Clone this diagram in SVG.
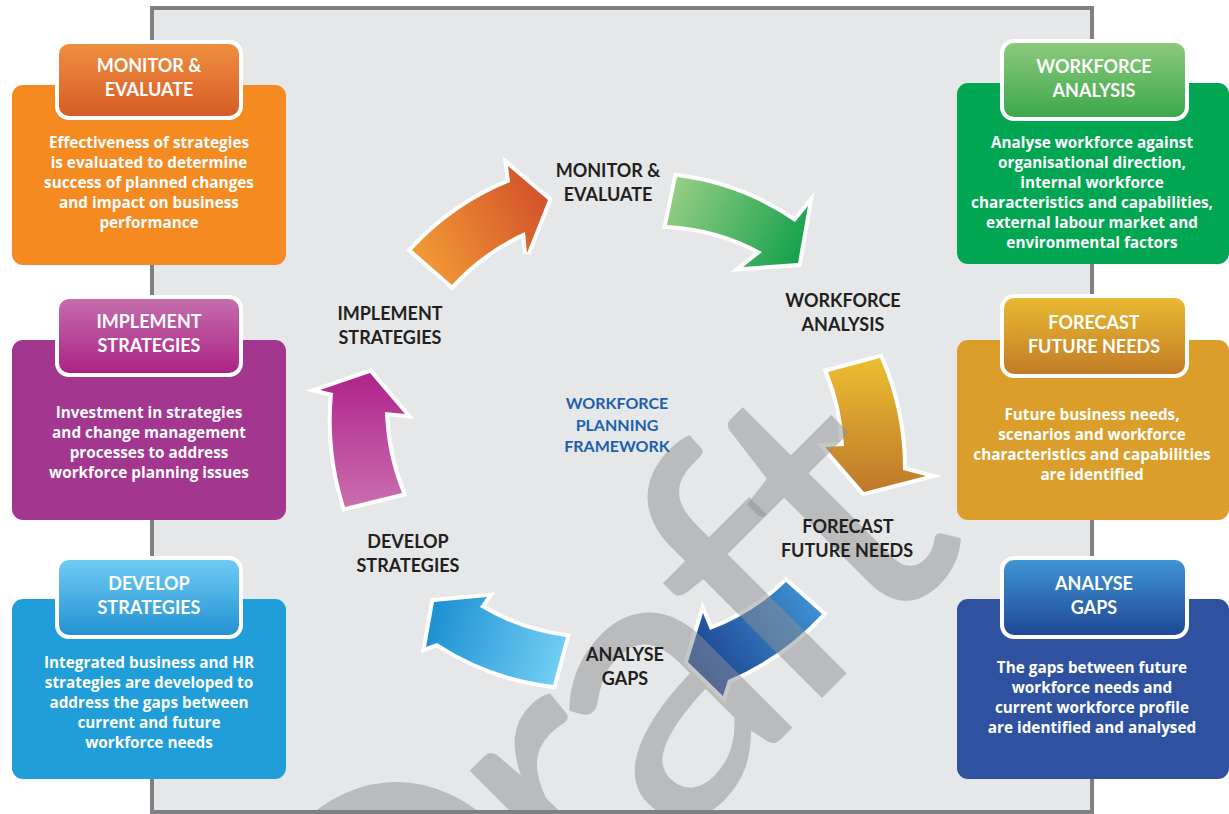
<svg xmlns="http://www.w3.org/2000/svg" width="1229" height="814" viewBox="0 0 1229 814">
<defs>
<style>
.body{stroke:none}
.tab{stroke:#ffffff;stroke-width:4}
.tt{font-family:Lato,"Liberation Sans",sans-serif;font-weight:700;font-size:18px;fill:#ffffff;text-anchor:middle}
.bt{font-family:"Open Sans","Liberation Sans",sans-serif;font-weight:700;font-size:15.3px;fill:#ffffff;text-anchor:middle}
.cl{font-family:Lato,"Liberation Sans",sans-serif;font-weight:700;font-size:18px;fill:#231f20;text-anchor:middle}
.ct{font-family:Lato,"Liberation Sans",sans-serif;font-weight:700;font-size:16px;fill:#1d61ad;text-anchor:middle}
.arr{stroke:#ffffff;stroke-width:8;stroke-linejoin:miter;paint-order:stroke}
.wm{font-family:Lato,"Liberation Sans",sans-serif;font-weight:400;font-size:390px;letter-spacing:-21px;fill:#8e8f91;fill-opacity:0.5}
</style>
<linearGradient id="gMon" x1="0" y1="0" x2="0" y2="1"><stop offset="0" stop-color="#f09040"/><stop offset="1" stop-color="#d65a26"/></linearGradient>
<linearGradient id="gImp" x1="0" y1="0" x2="0" y2="1"><stop offset="0" stop-color="#c56fae"/><stop offset="1" stop-color="#ab2184"/></linearGradient>
<linearGradient id="gDev" x1="0" y1="0" x2="0" y2="1"><stop offset="0" stop-color="#70cdf4"/><stop offset="1" stop-color="#2190d2"/></linearGradient>
<linearGradient id="gWfa" x1="0" y1="0" x2="0" y2="1"><stop offset="0" stop-color="#8dca7c"/><stop offset="1" stop-color="#3ba74a"/></linearGradient>
<linearGradient id="gFor" x1="0" y1="0" x2="0" y2="1"><stop offset="0" stop-color="#e9bb32"/><stop offset="1" stop-color="#c27a26"/></linearGradient>
<linearGradient id="gAna" x1="0" y1="0" x2="0" y2="1"><stop offset="0" stop-color="#4196d6"/><stop offset="1" stop-color="#1d4693"/></linearGradient>
<linearGradient id="aOr" gradientUnits="userSpaceOnUse" x1="412" y1="270" x2="548" y2="200"><stop offset="0" stop-color="#f49f36"/><stop offset="1" stop-color="#d3522a"/></linearGradient>
<linearGradient id="aGr" gradientUnits="userSpaceOnUse" x1="670" y1="190" x2="800" y2="260"><stop offset="0" stop-color="#96ce85"/><stop offset="1" stop-color="#13a04b"/></linearGradient>
<linearGradient id="aGo" gradientUnits="userSpaceOnUse" x1="0" y1="360" x2="0" y2="492"><stop offset="0" stop-color="#ebbd30"/><stop offset="1" stop-color="#bf772a"/></linearGradient>
<linearGradient id="aDb" gradientUnits="userSpaceOnUse" x1="810" y1="590" x2="690" y2="670"><stop offset="0" stop-color="#3f92d2"/><stop offset="1" stop-color="#1a3f8f"/></linearGradient>
<linearGradient id="aLb" gradientUnits="userSpaceOnUse" x1="430" y1="620" x2="560" y2="660"><stop offset="0" stop-color="#1c90d2"/><stop offset="1" stop-color="#70cdf3"/></linearGradient>
<linearGradient id="aMg" gradientUnits="userSpaceOnUse" x1="0" y1="375" x2="0" y2="505"><stop offset="0" stop-color="#b0248c"/><stop offset="1" stop-color="#ca6dae"/></linearGradient>
<clipPath id="panelClip"><rect x="154" y="10" width="936" height="800"/></clipPath>
</defs>

<rect x="0" y="0" width="1229" height="814" fill="#ffffff"/>
<g id="panel">
<rect x="152" y="8" width="940" height="804" fill="#e6e7e8" stroke="#7f8083" stroke-width="4"/>
</g>

<g id="connectors">
<path class="arr" fill="url(#aOr)" d="M412,250 A272,272 0 0 1 510,182 L508,166 L548,200 L527,253 L525,232 A222,222 0 0 0 452,285 Z"/>
<path class="arr" fill="url(#aGr)" d="M677,177 A265,265 0 0 1 795,222 L808,206 L798,263 L743,267 L762,252 A220,220 0 0 0 667,225 Z"/>
<path class="arr" fill="url(#aGo)" d="M880,358 A275,275 0 0 1 903,470 L926,476 L864,492 L825,447 L844,446 A220,220 0 0 0 828,372 Z"/>
<path class="arr" fill="url(#aDb)" d="M822,614 A270,270 0 0 1 728,680 L723,696 L688,662 L703,613 L710,630 A220,220 0 0 0 786,582 Z"/>
<path class="arr" fill="url(#aLb)" d="M553,685 A270,270 0 0 1 437,643 L426,647 L434,602 L487,597 L480,607 A222,222 0 0 0 566,637 Z"/>
<path class="arr" fill="url(#aMg)" d="M345,507 A290,290 0 0 1 333,393 L320,390 L370,373 L405,414 L385,412 A235,235 0 0 0 402,493 Z"/>
</g>

<g id="watermark" clip-path="url(#panelClip)">
<text class="wm" transform="translate(398,1122) rotate(-45)">Draft</text>
</g>

<g id="cycle-labels">
<text class="cl" x="608" y="177">MONITOR &amp;</text>
<text class="cl" x="608" y="201">EVALUATE</text>
<text class="cl" x="843" y="307">WORKFORCE</text>
<text class="cl" x="843" y="331">ANALYSIS</text>
<text class="cl" x="848" y="533">FORECAST</text>
<text class="cl" x="847" y="557">FUTURE NEEDS</text>
<text class="cl" x="625" y="661">ANALYSE</text>
<text class="cl" x="625" y="685">GAPS</text>
<text class="cl" x="408" y="548">DEVELOP</text>
<text class="cl" x="408" y="572">STRATEGIES</text>
<text class="cl" x="390" y="320">IMPLEMENT</text>
<text class="cl" x="390" y="344">STRATEGIES</text>
</g>
<g id="center-title">
<text class="ct" x="617" y="409">WORKFORCE</text>
<text class="ct" x="617" y="431">PLANNING</text>
<text class="ct" x="617" y="452">FRAMEWORK</text>
</g>

<g id="node-monitor">
<rect class="body" x="12" y="85" width="274" height="180" rx="11" fill="#f58a21"/>
<rect class="tab" x="57" y="42" width="184" height="76" rx="12" fill="url(#gMon)"/>
<text class="tt" x="149" y="72">MONITOR &amp;</text>
<text class="tt" x="149" y="96">EVALUATE</text>
<text class="bt" x="149" y="148">Effectiveness of strategies</text>
<text class="bt" x="149" y="168">is evaluated to determine</text>
<text class="bt" x="149" y="188">success of planned changes</text>
<text class="bt" x="149" y="208">and impact on business</text>
<text class="bt" x="149" y="228">performance</text>
</g>

<g id="node-implement">
<rect class="body" x="12" y="340" width="274" height="180" rx="11" fill="#a3368f"/>
<rect class="tab" x="57" y="297" width="184" height="78" rx="12" fill="url(#gImp)"/>
<text class="tt" x="149" y="328">IMPLEMENT</text>
<text class="tt" x="149" y="352">STRATEGIES</text>
<text class="bt" x="149" y="418">Investment in strategies</text>
<text class="bt" x="149" y="438">and change management</text>
<text class="bt" x="149" y="458">processes to address</text>
<text class="bt" x="149" y="478">workforce planning issues</text>
</g>

<g id="node-develop">
<rect class="body" x="12" y="599" width="274" height="180" rx="11" fill="#1f9ed9"/>
<rect class="tab" x="57" y="558" width="184" height="79" rx="12" fill="url(#gDev)"/>
<text class="tt" x="149" y="590">DEVELOP</text>
<text class="tt" x="149" y="614">STRATEGIES</text>
<text class="bt" x="149" y="668">Integrated business and HR</text>
<text class="bt" x="149" y="688">strategies are developed to</text>
<text class="bt" x="149" y="708">address the gaps between</text>
<text class="bt" x="149" y="728">current and future</text>
<text class="bt" x="149" y="748">workforce needs</text>
</g>

<g id="node-workforce">
<rect class="body" x="957" y="83" width="272" height="181" rx="11" fill="#00a651"/>
<rect class="tab" x="1002" y="41" width="185" height="78" rx="12" fill="url(#gWfa)"/>
<text class="tt" x="1094" y="73">WORKFORCE</text>
<text class="tt" x="1094" y="97">ANALYSIS</text>
<text class="bt" x="1092" y="148">Analyse workforce against</text>
<text class="bt" x="1092" y="168">organisational direction,</text>
<text class="bt" x="1092" y="188">internal workforce</text>
<text class="bt" x="1092" y="208">characteristics and capabilities,</text>
<text class="bt" x="1092" y="228">external labour market and</text>
<text class="bt" x="1092" y="248">environmental factors</text>
</g>

<g id="node-forecast">
<rect class="body" x="957" y="340" width="272" height="180" rx="11" fill="#dc9e2a"/>
<rect class="tab" x="1002" y="296" width="185" height="80" rx="12" fill="url(#gFor)"/>
<text class="tt" x="1094" y="329">FORECAST</text>
<text class="tt" x="1094" y="353">FUTURE NEEDS</text>
<text class="bt" x="1092" y="420">Future business needs,</text>
<text class="bt" x="1092" y="440">scenarios and workforce</text>
<text class="bt" x="1092" y="460">characteristics and capabilities</text>
<text class="bt" x="1092" y="480">are identified</text>
</g>

<g id="node-analyse">
<rect class="body" x="957" y="599" width="272" height="180" rx="11" fill="#2f52a0"/>
<rect class="tab" x="1002" y="558" width="185" height="79" rx="12" fill="url(#gAna)"/>
<text class="tt" x="1094" y="590">ANALYSE</text>
<text class="tt" x="1094" y="614">GAPS</text>
<text class="bt" x="1092" y="673">The gaps between future</text>
<text class="bt" x="1092" y="693">workforce needs and</text>
<text class="bt" x="1092" y="713">current workforce profile</text>
<text class="bt" x="1092" y="733">are identified and analysed</text>
</g>
</svg>
